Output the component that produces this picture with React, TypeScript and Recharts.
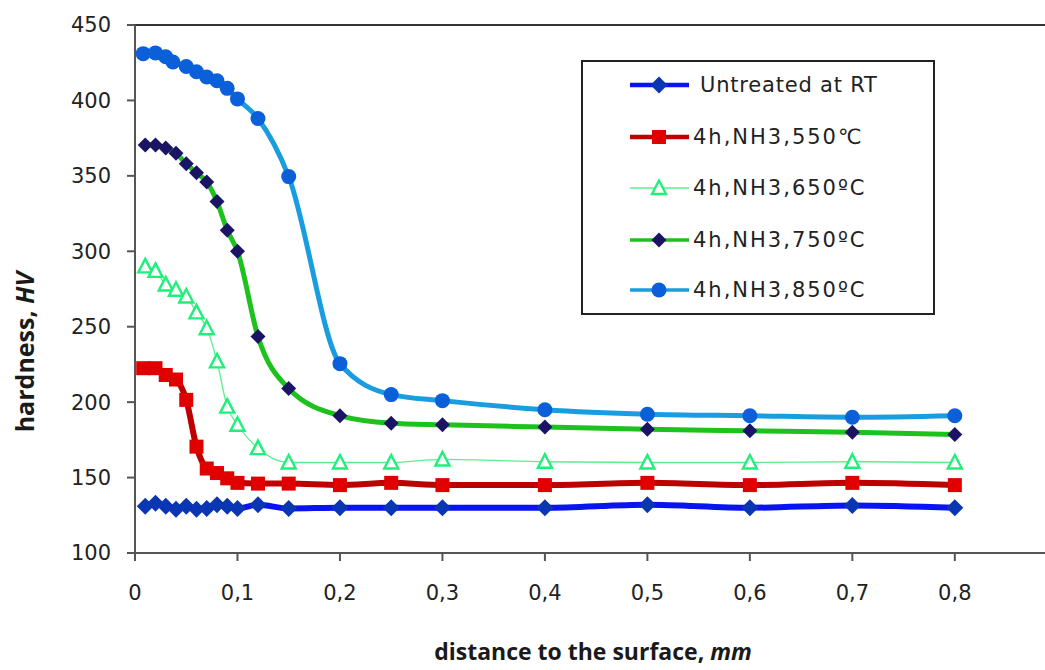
import React from "react";
import { LineChart, Line, XAxis, YAxis, Legend, ReferenceLine } from "recharts";

// distance to the surface (mm) and hardness (HV)
const untreatedDepth = [0.01, 0.02, 0.03, 0.04, 0.05, 0.06, 0.07, 0.08, 0.09, 0.1, 0.12, 0.15, 0.2, 0.25, 0.3, 0.4, 0.5, 0.6, 0.7, 0.8];
const untreatedHV = [131, 133, 131, 129, 131, 129, 129.5, 132, 131, 129.5, 132, 129.5, 130, 130, 130, 130, 132, 130, 131.5, 130];

const nh550Depth = [0.008, 0.02, 0.03, 0.04, 0.05, 0.06, 0.07, 0.08, 0.09, 0.1, 0.12, 0.15, 0.2, 0.25, 0.3, 0.4, 0.5, 0.6, 0.7, 0.8];
const nh550HV = [222.5, 222.5, 218, 215, 201.5, 170.5, 156, 153, 149.5, 146.5, 146, 146, 145, 146.5, 145, 145, 146.5, 145, 146.5, 145];

const nh650Depth = [0.01, 0.02, 0.03, 0.04, 0.05, 0.06, 0.07, 0.08, 0.09, 0.1, 0.12, 0.15, 0.2, 0.25, 0.3, 0.4, 0.5, 0.6, 0.7, 0.8];
const nh650HV = [290, 287, 278, 274.5, 270, 259.5, 249, 227, 197, 185, 169.5, 160, 160, 160, 162, 160.5, 160, 160, 160.5, 160];

const nh750Depth = [0.01, 0.02, 0.03, 0.04, 0.05, 0.06, 0.07, 0.08, 0.09, 0.1, 0.12, 0.15, 0.2, 0.25, 0.3, 0.4, 0.5, 0.6, 0.7, 0.8];
const nh750HV = [370.5, 370.5, 368.5, 365, 358, 352, 346, 333, 314, 300, 243.5, 209, 191, 186, 185, 183.5, 182, 181, 180, 178.5];

const nh850Depth = [0.008, 0.02, 0.03, 0.037, 0.05, 0.06, 0.07, 0.08, 0.09, 0.1, 0.12, 0.15, 0.2, 0.25, 0.3, 0.4, 0.5, 0.6, 0.7, 0.8];
const nh850HV = [431, 431.5, 429, 425.5, 422.5, 419, 415.5, 413, 408, 401, 388, 349.5, 225.5, 205, 201, 195, 192, 191, 190, 191];

const xTicks = [0, 0.1, 0.2, 0.3, 0.4, 0.5, 0.6, 0.7, 0.8];
const yTicks = [100, 150, 200, 250, 300, 350, 400, 450];

const toPoints = (xs: number[], ys: number[]) => xs.map((x, i) => ({ x, hv: ys[i] }));

type Shape = "diamond" | "square" | "triangle" | "smallDiamond" | "circle";

const series = [
  { name: "Untreated at RT", data: toPoints(untreatedDepth, untreatedHV), line: "#0a14f0", width: 6, marker: "#0a36b4", shape: "diamond" as Shape },
  { name: "4h,NH3,550\u2103", data: toPoints(nh550Depth, nh550HV), line: "#bf0000", width: 6, marker: "#e00000", shape: "square" as Shape },
  { name: "4h,NH3,650\u00baC", data: toPoints(nh650Depth, nh650HV), line: "#5cee8e", width: 1.3, marker: "#1ef07a", shape: "triangle" as Shape },
  { name: "4h,NH3,750\u00baC", data: toPoints(nh750Depth, nh750HV), line: "#1ec21e", width: 5, marker: "#1b1464", shape: "smallDiamond" as Shape },
  { name: "4h,NH3,850\u00baC", data: toPoints(nh850Depth, nh850HV), line: "#1a9ddf", width: 5, marker: "#0b5fd9", shape: "circle" as Shape },
];

function marker(shape: Shape, cx: number, cy: number, color: string, key?: string) {
  switch (shape) {
    case "diamond":
      return <path key={key} d={`M${cx},${cy - 8.5}L${cx + 8.5},${cy}L${cx},${cy + 8.5}L${cx - 8.5},${cy}Z`} fill={color} />;
    case "smallDiamond":
      return <path key={key} d={`M${cx},${cy - 7.5}L${cx + 7.5},${cy}L${cx},${cy + 7.5}L${cx - 7.5},${cy}Z`} fill={color} />;
    case "square":
      return <rect key={key} x={cx - 7} y={cy - 7} width={14} height={14} fill={color} />;
    case "triangle":
      return (
        <path
          key={key}
          d={`M${cx},${cy - 7.5}L${cx + 7},${cy + 6}L${cx - 7},${cy + 6}Z`}
          fill="#fff"
          stroke={color}
          strokeWidth={2.4}
        />
      );
    default:
      return <circle key={key} cx={cx} cy={cy} r={7.5} fill={color} />;
  }
}

const LegendBox = () => {
  const rows = [25, 77, 128, 180, 230];
  return (
    <div
      style={{
        width: 354,
        height: 255,
        border: "2px solid #222",
        boxSizing: "border-box",
        background: "#fff",
      }}
    >
      <svg width={350} height={251} style={{ display: "block" }}>
        {series.map((s, i) => {
          const cy = rows[i] - 2;
          return (
            <g key={s.name}>
              <line x1={47} x2={106} y1={cy} y2={cy} stroke={s.line} strokeWidth={Math.max(s.width - 1.5, 1.3)} />
              {marker(s.shape, 76, cy, s.marker)}
              <text
                x={i === 0 ? 117 : 110}
                y={cy}
                dominantBaseline="central"
                fontFamily="DejaVu Sans"
                fontSize={21}
                letterSpacing={i === 0 ? 0.8 : 2}
                fill="#222"
              >
                {s.name}
              </text>
            </g>
          );
        })}
      </svg>
    </div>
  );
};

const XTitle = () => (
  <text x={593} y={660} textAnchor="middle" fontFamily="Open Sans" fontWeight={700} fontSize={23} fill="#1a1a1a">
    distance to the surface, <tspan fontStyle="italic">mm</tspan>
  </text>
);

const YTitle = () => (
  <text
    x={24}
    y={352}
    transform="rotate(-90, 24, 352)"
    textAnchor="middle"
    dominantBaseline="central"
    fontFamily="Open Sans"
    fontWeight={700}
    fontSize={25}
    fill="#1a1a1a"
  >
    hardness, <tspan fontStyle="italic">HV</tspan>
  </text>
);

export default function App() {
  const tickStyle = { fontFamily: "DejaVu Sans", fontSize: 21, fill: "#222" };
  return (
    <div style={{ position: "absolute", left: 0, top: 0, width: 1045, height: 670, background: "#fff", overflow: "hidden" }}>
      <LineChart width={1045} height={670} margin={{ top: 25, right: 0, bottom: 0, left: 0 }}>
        <XAxis
          dataKey="x"
          type="number"
          domain={[0, 0.888]}
          ticks={xTicks}
          allowDataOverflow
          height={117}
          tick={tickStyle}
          tickSize={8}
          tickMargin={24}
          tickFormatter={(v: number) => String(v).replace(".", ",")}
          axisLine={{ stroke: "#555", strokeWidth: 2 }}
          tickLine={{ stroke: "#555", strokeWidth: 2 }}
          label={{ content: () => <XTitle /> }}
        />
        <YAxis
          type="number"
          domain={[100, 450]}
          ticks={yTicks}
          width={135}
          tick={tickStyle}
          tickSize={8}
          tickMargin={16}
          axisLine={{ stroke: "#555", strokeWidth: 2 }}
          tickLine={{ stroke: "#555", strokeWidth: 2 }}
          label={{ content: () => <YTitle /> }}
        />
        <ReferenceLine y={450} stroke="#333" strokeWidth={2} />
        {series.map((s) => (
          <Line
            key={s.name}
            data={s.data}
            dataKey="hv"
            name={s.name}
            type="monotone"
            stroke={s.line}
            strokeWidth={s.width}
            isAnimationActive={false}
            activeDot={false}
            dot={(p: any) => marker(s.shape, p.cx, p.cy, s.marker, `${s.name}-${p.index}`)}
          />
        ))}
        <Legend
          layout="vertical"
          align="center"
          verticalAlign="middle"
          content={() => <LegendBox />}
          wrapperStyle={{ position: "absolute", left: 581, top: 60, width: 354, height: 255 }}
        />
      </LineChart>
    </div>
  );
}
